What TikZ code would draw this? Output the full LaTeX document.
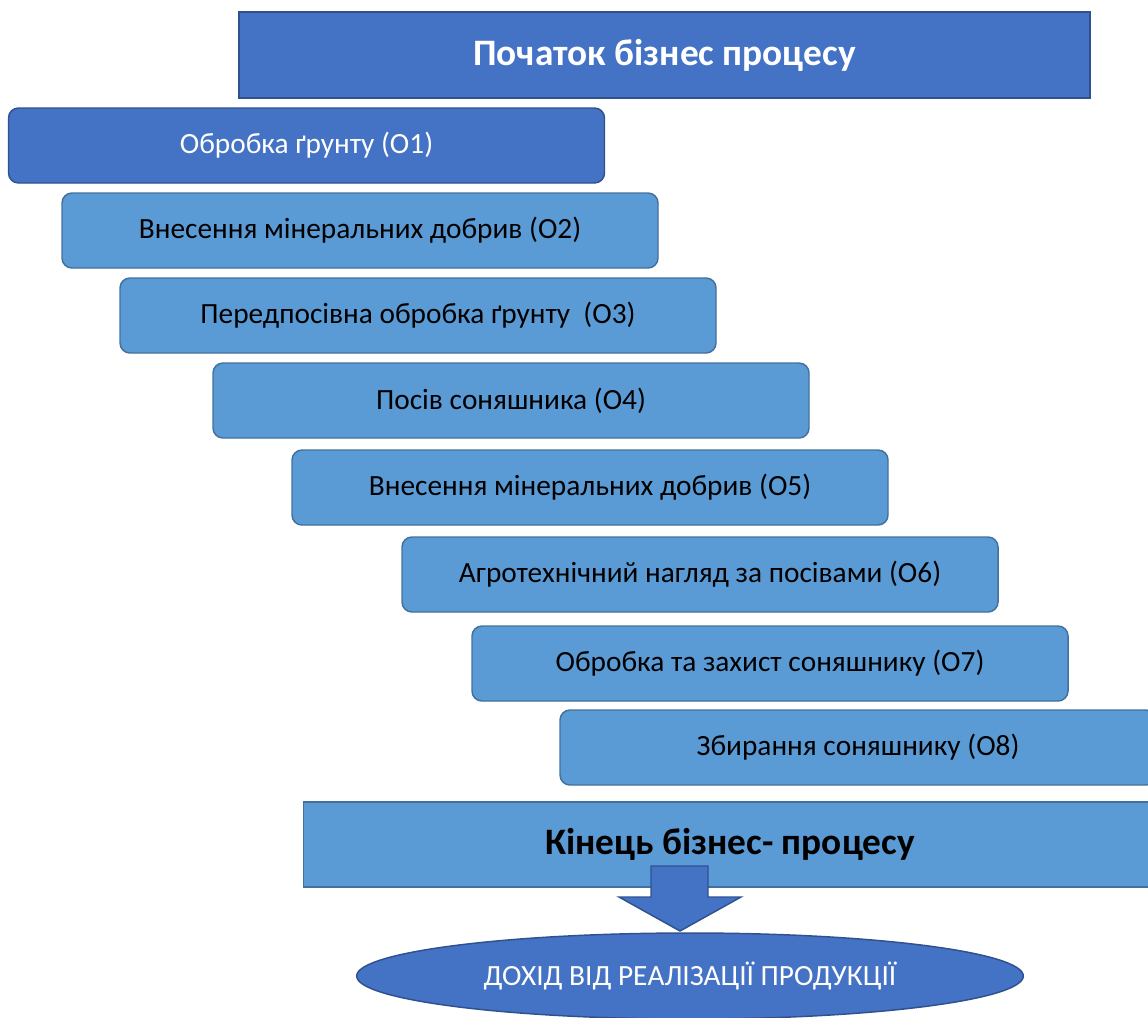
\documentclass[tikz,border=0pt]{standalone}
\usepackage{fontspec}
\setmainfont{Carlito}
\usetikzlibrary{shapes.geometric}
\definecolor{darkfill}{HTML}{4472C4}
\definecolor{darkline}{HTML}{2F528F}
\definecolor{lightfill}{HTML}{5B9BD5}
\definecolor{lightline}{HTML}{41719C}
\tikzset{
  stepbox/.style={rounded corners=7.5pt, fill=lightfill, draw=lightline, line width=1.1pt,
    minimum width=447pt, minimum height=56.25pt, inner sep=0pt,
    font=\fontsize{22}{26}\selectfont, text=black},
  firstbox/.style={stepbox, fill=darkfill, draw=darkline, text=white},
  headbox/.style={rectangle, fill=darkfill, draw=darkline, line width=1.1pt, inner sep=0pt,
    font=\bfseries\fontsize{28}{32}\selectfont, text=white},
  endbox/.style={rectangle, fill=lightfill, draw=lightline, line width=1.1pt, inner sep=0pt,
    font=\bfseries\fontsize{28}{32}\selectfont, text=black},
  resultell/.style={ellipse, fill=darkfill, draw=darkline, line width=1.1pt, inner sep=0pt,
    font=\fontsize{22}{26}\selectfont, text=white},
  blockarrow/.style={fill=darkfill, draw=darkline, line width=1.1pt, line join=miter}
}
\begin{document}
\begin{tikzpicture}[x=0.75pt,y=-0.75pt]
\useasboundingbox (0,0) rectangle (1148,1017);
\node[headbox, minimum width=638.25pt, minimum height=64.5pt] (start) at (664.5,55) {Початок бізнес процесу};
\node[firstbox] (o1) at (306.5,145.5) {Обробка ґрунту (O1)};
\node[stepbox] (o2) at (360,230.5) {Внесення мінеральних добрив (O2)};
\node[stepbox] (o3) at (418,315.5) {Передпосівна обробка ґрунту\ \ (O3)};
\node[stepbox] (o4) at (511,400.5) {Посів соняшника (O4)};
\node[stepbox] (o5) at (590,487.5) {Внесення мінеральних добрив (O5)};
\node[stepbox] (o6) at (700,574.5) {Агротехнічний нагляд за посівами (O6)};
\node[stepbox] (o7) at (770,663.5) {Обробка та захист соняшнику (O7)};
\node[stepbox] (o8) at (858,747.5) {Збирання соняшнику (O8)};
\node[endbox, minimum width=640pt, minimum height=63.75pt] (end) at (730,844.5) {Кінець бізнес- процесу};
\node[resultell, minimum width=500pt, minimum height=64.5pt] (res) at (690,976) {ДОХІД ВІД РЕАЛІЗАЦІЇ ПРОДУКЦІЇ};
\draw[blockarrow] (651,866) -- (708,866) -- (708,897) -- (741,897) -- (680,931) -- (619,897) -- (651,897) -- cycle;
\end{tikzpicture}
\end{document}
